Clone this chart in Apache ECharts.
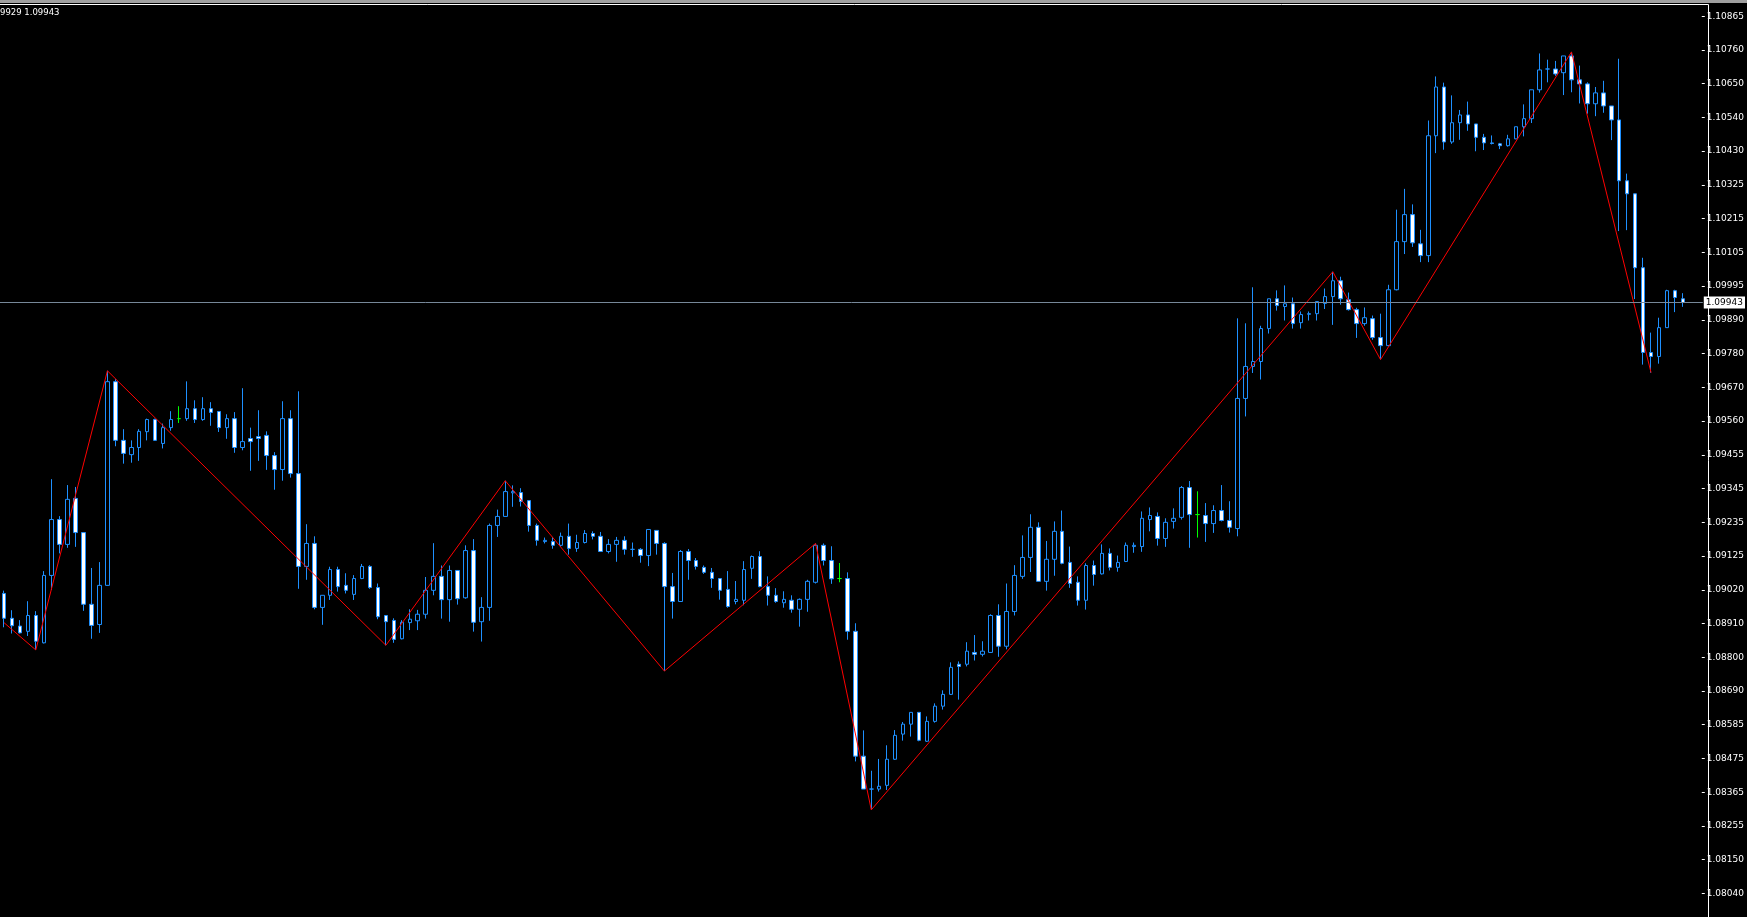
<!DOCTYPE html>
<html>
<head>
<meta charset="utf-8">
<script src="https://cdn.jsdelivr.net/npm/echarts@6/dist/echarts.min.js"></script>
<style>
html,body{margin:0;padding:0;background:#000;}
#chart{width:1747px;height:917px;}
</style>
</head>
<body>
<div id="chart"></div>
<script>
// ---- DATA ----
const headerText = '9929 1.09943';
const currentPrice = 1.09943;
const yTickLabels = ['1.08040','1.08150','1.08255','1.08365','1.08475','1.08585','1.08690','1.08800','1.08910','1.09020','1.09125','1.09235','1.09345','1.09455','1.09560','1.09670','1.09780','1.09890','1.09995','1.10105','1.10215','1.10325','1.10430','1.10540','1.10650','1.10760','1.10865'];
const yMin = 1.08040;
const yMax = 1.10865;

const opens = [
1.09006,1.08926,1.08901,1.08884,1.08935,1.08847,1.09064,1.09244,1.09164,1.09312,
1.09202,1.08971,1.08906,1.09032,1.09688,1.09499,1.09453,1.09476,1.09527,1.09566,
1.09489,1.09540,1.09569,1.09569,1.09601,1.09566,1.09601,1.09592,1.09540,1.09569,
1.09476,1.09505,1.09511,1.09515,1.09450,1.09405,1.09569,1.09392,1.09093,1.09167,
1.08961,1.09000,1.09083,1.09032,1.09003,1.09054,1.09093,1.09025,1.08935,1.08919,
1.08860,1.08912,1.08918,1.08939,1.09016,1.09061,1.08986,1.09080,1.08992,1.09144,
1.08915,1.08961,1.09225,1.09254,1.09330,1.09331,1.09305,1.09225,1.09173,1.09173,
1.09161,1.09190,1.09151,1.09170,1.09199,1.09190,1.09141,1.09164,1.09177,1.09148,
1.09148,1.09128,1.09209,1.09167,1.09028,1.08980,1.09141,1.09112,1.09090,1.09074,
1.09054,1.09019,1.08980,1.08984,1.09087,1.09125,1.09028,1.09000,1.08976,1.08984,
1.08955,1.08987,1.09042,1.09161,1.09112,1.09054,1.09054,1.08884,1.08482,1.08376,
1.08376,1.08388,1.08472,1.08553,1.08585,1.08623,1.08530,1.08594,1.08643,1.08681,
1.08778,1.08778,1.08816,1.08810,1.08816,1.08935,1.08836,1.08948,1.09061,1.09122,
1.09219,1.09045,1.09116,1.09206,1.09106,1.09042,1.08984,1.09096,1.09069,1.09135,
1.09090,1.09109,1.09157,1.09157,1.09244,1.09254,1.09183,1.09238,1.09251,1.09347,
1.09260,1.09257,1.09231,1.09273,1.09241,1.09215,1.09634,1.09737,1.09753,1.09859,
1.09955,1.09930,1.09939,1.09878,1.09905,1.09907,1.09940,1.09962,1.10013,1.09952,
1.09920,1.09875,1.09891,1.09830,1.09804,1.09984,1.10139,1.10226,1.10132,1.10094,
1.10480,1.10637,1.10460,1.10522,1.10547,1.10518,1.10475,1.10457,1.10454,1.10448,
1.10470,1.10509,1.10535,1.10628,1.10695,1.10695,1.10683,1.10737,1.10660,1.10647,
1.10583,1.10618,1.10576,1.10531,1.10335,1.10293,1.10055,1.09782,1.09769,1.09862,
1.09981,1.09955];

const closes = [
1.08926,1.08902,1.08879,1.08935,1.08852,1.09064,1.09244,1.09164,1.09309,1.09202,
1.08971,1.08903,1.09032,1.09688,1.09499,1.09457,1.09476,1.09528,1.09566,1.09499,
1.09540,1.09566,1.09569,1.09601,1.09566,1.09601,1.09589,1.09540,1.09569,1.09476,
1.09495,1.09495,1.09505,1.09450,1.09405,1.09569,1.09392,1.09093,1.09167,1.08961,
1.09000,1.09083,1.09028,1.09016,1.09054,1.09093,1.09025,1.08931,1.08915,1.08858,
1.08913,1.08923,1.08939,1.09016,1.09061,1.08986,1.09080,1.08989,1.09144,1.08913,
1.08961,1.09225,1.09254,1.09334,1.09334,1.09302,1.09225,1.09177,1.09177,1.09161,
1.09190,1.09151,1.09170,1.09199,1.09190,1.09141,1.09164,1.09177,1.09148,1.09148,
1.09128,1.09212,1.09167,1.09028,1.08980,1.09141,1.09112,1.09093,1.09074,1.09054,
1.09016,1.08964,1.08987,1.09083,1.09125,1.09028,1.09000,1.08980,1.08987,1.08955,
1.08987,1.09045,1.09161,1.09112,1.09053,1.09054,1.08884,1.08482,1.08376,1.08376,
1.08385,1.08472,1.08549,1.08585,1.08623,1.08533,1.08594,1.08643,1.08681,1.08768,
1.08771,1.08820,1.08810,1.08820,1.08935,1.08836,1.08948,1.09064,1.09122,1.09219,
1.09045,1.09116,1.09206,1.09103,1.09038,1.08984,1.09096,1.09067,1.09135,1.09090,
1.09106,1.09161,1.09161,1.09248,1.09257,1.09183,1.09235,1.09248,1.09347,1.09260,
1.09260,1.09231,1.09273,1.09241,1.09219,1.09634,1.09737,1.09753,1.09859,1.09955,
1.09933,1.09939,1.09875,1.09904,1.09907,1.09946,1.09962,1.10013,1.09955,1.09920,
1.09875,1.09894,1.09830,1.09804,1.09984,1.10139,1.10226,1.10135,1.10094,1.10480,
1.10637,1.10460,1.10522,1.10547,1.10518,1.10475,1.10457,1.10455,1.10448,1.10470,
1.10509,1.10535,1.10628,1.10692,1.10695,1.10679,1.10737,1.10660,1.10647,1.10583,
1.10618,1.10576,1.10531,1.10335,1.10293,1.10055,1.09782,1.09769,1.09862,1.09981,
1.09959,1.09943];

const lows = [
1.08897,1.08877,1.08877,1.08869,1.08824,1.08845,1.09017,1.09135,1.09153,1.09156,
1.08950,1.08860,1.08879,1.09031,1.09480,1.09424,1.09427,1.09433,1.09499,1.09497,
1.09473,1.09530,1.09555,1.09562,1.09555,1.09562,1.09546,1.09526,1.09504,1.09459,
1.09467,1.09401,1.09433,1.09404,1.09340,1.09369,1.09379,1.09021,1.09050,1.08955,
1.08905,1.08985,1.09012,1.09006,1.08985,1.09052,1.09021,1.08923,1.08839,1.08847,
1.08858,1.08888,1.08888,1.08925,1.09000,1.08925,1.08915,1.08970,1.08989,1.08883,
1.08851,1.08918,1.09188,1.09253,1.09285,1.09286,1.09205,1.09160,1.09167,1.09150,
1.09156,1.09131,1.09140,1.09167,1.09180,1.09140,1.09135,1.09108,1.09131,1.09124,
1.09105,1.09094,1.09131,1.08756,1.08925,1.08979,1.09050,1.09083,1.09069,1.09024,
1.08986,1.08960,1.08971,1.08968,1.09053,1.09026,1.08967,1.08976,1.08960,1.08944,
1.08899,1.08947,1.09038,1.09096,1.09037,1.09042,1.08857,1.08465,1.08376,1.08309,
1.08368,1.08373,1.08470,1.08532,1.08545,1.08530,1.08528,1.08590,1.08632,1.08679,
1.08664,1.08771,1.08790,1.08803,1.08815,1.08802,1.08826,1.08935,1.09053,1.09075,
1.09045,1.09015,1.09063,1.09100,1.09024,1.08967,1.08954,1.09031,1.09067,1.09080,
1.09076,1.09107,1.09137,1.09140,1.09206,1.09160,1.09156,1.09215,1.09244,1.09153,
1.09186,1.09172,1.09201,1.09238,1.09202,1.09190,1.09576,1.09716,1.09695,1.09843,
1.09917,1.09885,1.09859,1.09859,1.09885,1.09885,1.09922,1.09871,1.09936,1.09917,
1.09829,1.09868,1.09823,1.09759,1.09802,1.09982,1.10099,1.10122,1.10073,1.10073,
1.10424,1.10435,1.10454,1.10467,1.10496,1.10430,1.10434,1.10452,1.10437,1.10445,
1.10469,1.10478,1.10521,1.10619,1.10652,1.10673,1.10611,1.10620,1.10584,1.10551,
1.10543,1.10554,1.10466,1.10173,1.10176,1.09954,1.09743,1.09717,1.09746,1.09861,
1.09912,1.09929];

const highs = [
1.09015,1.08952,1.08920,1.08981,1.08949,1.09078,1.09374,1.09255,1.09355,1.09349,
1.09202,1.09088,1.09107,1.09723,1.09696,1.09535,1.09499,1.09535,1.09569,1.09569,
1.09553,1.09593,1.09609,1.09689,1.09628,1.09638,1.09622,1.09592,1.09583,1.09590,
1.09667,1.09540,1.09596,1.09528,1.09461,1.09625,1.09596,1.09657,1.09229,1.09190,
1.09000,1.09092,1.09092,1.09071,1.09065,1.09101,1.09097,1.09038,1.08935,1.08926,
1.08920,1.08955,1.08953,1.09059,1.09168,1.09096,1.09096,1.09080,1.09161,1.09181,
1.08994,1.09231,1.09276,1.09369,1.09354,1.09345,1.09305,1.09231,1.09186,1.09188,
1.09202,1.09231,1.09195,1.09210,1.09206,1.09204,1.09181,1.09188,1.09190,1.09170,
1.09152,1.09212,1.09209,1.09171,1.09072,1.09146,1.09149,1.09120,1.09096,1.09088,
1.09054,1.09078,1.09046,1.09110,1.09128,1.09142,1.09061,1.09023,1.09013,1.09000,
1.08990,1.09050,1.09167,1.09167,1.09158,1.09104,1.09074,1.08910,1.08565,1.08435,
1.08473,1.08517,1.08566,1.08592,1.08623,1.08623,1.08610,1.08652,1.08694,1.08784,
1.08787,1.08849,1.08872,1.08852,1.08939,1.08971,1.09038,1.09097,1.09193,1.09261,
1.09235,1.09175,1.09238,1.09273,1.09157,1.09061,1.09103,1.09112,1.09164,1.09151,
1.09128,1.09170,1.09170,1.09270,1.09283,1.09267,1.09248,1.09280,1.09352,1.09368,
1.09335,1.09297,1.09290,1.09355,1.09303,1.09892,1.09876,1.09992,1.09868,1.09955,
1.09982,1.09998,1.09959,1.09914,1.09914,1.09946,1.09988,1.10042,1.10026,1.09975,
1.09926,1.09927,1.09901,1.09907,1.10000,1.10242,1.10309,1.10259,1.10177,1.10529,
1.10671,1.10651,1.10610,1.10563,1.10590,1.10518,1.10486,1.10481,1.10457,1.10483,
1.10509,1.10581,1.10628,1.10745,1.10725,1.10721,1.10737,1.10750,1.10706,1.10652,
1.10637,1.10657,1.10576,1.10728,1.10358,1.10293,1.10087,1.09846,1.09894,1.09984,
1.09984,1.09973];

// candles drawn in the "line" colour (exact doji)
const greenDoji = [22, 105, 150];

// zigzag pivots (candle index, price)
const pivotIdx   = [0, 4, 13, 48, 63, 83, 102, 109, 167, 173, 197, 207];
const pivotPrice = [1.08912, 1.08824, 1.09723, 1.08839, 1.09369, 1.08756, 1.09167, 1.08309, 1.10042, 1.09759, 1.10750, 1.09717];

// ---- BUILD ----
const categories = opens.map((_, i) => String(i));
const xCats = categories.concat(['', '']);  // empty room before the price scale

const candleData = opens.map((o, i) => {
  const v = [o, closes[i], lows[i], highs[i]];
  if (greenDoji.indexOf(i) >= 0) {
    return { value: v, itemStyle: { borderColor: '#00ff00', borderColor0: '#00ff00' } };
  }
  return v;
});
const zigzag = pivotIdx.map((k, j) => [k, pivotPrice[j]]);

const BLUE = '#1e90ff';
const FONT = 'DejaVu Sans';

const chart = echarts.init(document.getElementById('chart'), null, { renderer: 'canvas' });
chart.setOption({
  backgroundColor: '#000000',
  animation: false,
  grid: { left: -2.7, top: 16.2, width: 1712, height: 877.2, containLabel: false },
  xAxis: {
    type: 'category', data: xCats, boundaryGap: true,
    axisLine: { show: false }, axisTick: { show: false }, axisLabel: { show: false }, splitLine: { show: false }
  },
  yAxis: [
    { type: 'value', min: yMin, max: yMax, show: false, splitLine: { show: false }, scale: true },
    {
      type: 'category', data: yTickLabels, boundaryGap: false, position: 'right', offset: -1,
      axisLine: { show: false },
      axisTick: { show: true, interval: 0, length: 3, lineStyle: { color: '#ffffff', width: 1 } },
      axisLabel: { show: true, interval: 0, margin: 5, color: '#ffffff', fontFamily: FONT, fontSize: 9 },
      splitLine: { show: false }
    }
  ],
  series: [
    {
      type: 'candlestick', data: candleData, xAxisIndex: 0, yAxisIndex: 0,
      barWidth: 4,
      itemStyle: { color: '#000000', color0: '#ffffff', borderColor: BLUE, borderColor0: BLUE, borderWidth: 1 },
      markLine: {
        silent: true, symbol: ['none', 'none'], animation: false, precision: 5,
        lineStyle: { color: '#778899', width: 1, type: 'solid' },
        label: {
          show: true, position: 'end', distance: 1,
          formatter: currentPrice.toFixed(5),
          backgroundColor: '#ffffff', color: '#000000', padding: [2, 2, 1, 2],
          fontFamily: FONT, fontSize: 9
        },
        data: [{ yAxis: currentPrice }]
      },
      z: 2
    },
    {
      type: 'line', data: zigzag, xAxisIndex: 0, yAxisIndex: 0,
      symbol: 'none', connectNulls: true,
      lineStyle: { color: '#ff0000', width: 1 },
      itemStyle: { color: '#ff0000' },
      z: 3
    }
  ],
  graphic: [
    { type: 'rect', left: 0, top: 0, shape: { x: 0, y: 0, width: 1747, height: 3 }, style: { fill: '#a0a0a0' }, silent: true },
    { type: 'line', shape: { x1: 0, y1: 4.5, x2: 1708.5, y2: 4.5 }, style: { stroke: '#ffffff', lineWidth: 1 }, silent: true },
    { type: 'line', shape: { x1: 1708.5, y1: 4.5, x2: 1708.5, y2: 917 }, style: { stroke: '#ffffff', lineWidth: 1 }, silent: true },
    { type: 'text', left: 0, top: 8, style: { text: headerText, fill: '#ffffff', font: '8.5px "DejaVu Sans"' }, silent: true }
  ]
});
</script>
</body>
</html>
